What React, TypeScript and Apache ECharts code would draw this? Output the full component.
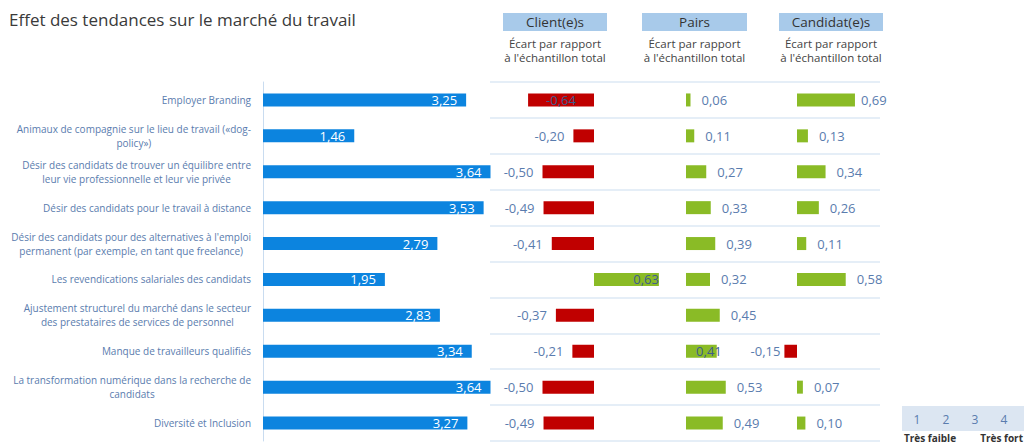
import React, { useEffect, useRef } from "react";
import * as echarts from "echarts";

const categories = [
  "Employer Branding",
  "Animaux de compagnie sur le lieu de travail («dog-\npolicy»)",
  "Désir des candidats de trouver un équilibre entre\nleur vie professionnelle et leur vie privée",
  "Désir des candidats pour le travail à distance",
  "Désir des candidats pour des alternatives à l'emploi\npermanent (par exemple, en tant que freelance)",
  "Les revendications salariales des candidats",
  "Ajustement structurel du marché dans le secteur\ndes prestataires de services de personnel",
  "Manque de travailleurs qualifiés",
  "La transformation numérique dans la recherche de\ncandidats",
  "Diversité et Inclusion",
];
const moyenne = [3.25, 1.46, 3.64, 3.53, 2.79, 1.95, 2.83, 3.34, 3.64, 3.27];
const clients = [-0.64, -0.2, -0.5, -0.49, -0.41, 0.63, -0.37, -0.21, -0.5, -0.49];
const pairs = [0.06, 0.11, 0.27, 0.33, 0.39, 0.32, 0.45, 0.41, 0.53, 0.49];
const candidats: (number | null)[] = [0.69, 0.13, 0.34, 0.26, 0.11, 0.58, null, -0.15, 0.07, 0.1];
const columnTitles = ["Client(e)s", "Pairs", "Candidat(e)s"];
const columnSubtitle = "Écart par rapport\nà l'échantillon total";
const scaleLabels = ["1", "2", "3", "4"];

const FONT = "'Open Sans', sans-serif";
const BLUE = "#0C84DF";
const RED = "#C00000";
const GREEN = "#8ABB26";
const LABEL = "#5A7CAE";
const DARKLABEL = "#3E5C8E";

const fmt = (v: number) => v.toFixed(2).replace(".", ",");

export default function App() {
  const ref = useRef<HTMLDivElement>(null);
  useEffect(() => {
    if (!ref.current) return;
    const chart = echarts.init(ref.current, undefined, { renderer: "svg" });
    const top = 82;
    const height = 359;
    const grids = [
      { left: 263, top, height, width: 250 },
      { left: 491, top, height, width: 206 },
      { left: 611, top, height, width: 150 },
      { left: 713, top, height, width: 168 },
      { left: 490, top, height, width: 390 },
    ];
    const yBase = {
      type: "category",
      data: categories,
      inverse: true,
      axisTick: { show: false },
      axisLabel: { show: false },
      axisLine: { show: false },
      splitLine: { show: false },
    };
    const yAxes: any[] = grids.map((_, i) => ({ ...yBase, gridIndex: i }));
    yAxes[0] = {
      ...yBase,
      gridIndex: 0,
      axisLine: { show: true, lineStyle: { color: "#C9DCF0", width: 1 } },
      axisLabel: {
        show: true,
        margin: 12,
        color: LABEL,
        fontSize: 10,
        lineHeight: 14,
        fontFamily: FONT,
        align: "right",
        formatter: (v: string) =>
          v
            .split("\n")
            .map((l) => `{c|${l}}`)
            .join("\n"),
        rich: {
          c: { align: "center", color: LABEL, fontSize: 10, lineHeight: 14, fontFamily: FONT },
        },
      },
    };
    yAxes[4] = {
      ...yBase,
      gridIndex: 4,
      splitLine: { show: true, lineStyle: { color: "#DDE8F4", width: 1.5 } },
    };
    const xAxes = [
      { gridIndex: 0, min: 0, max: 4 },
      { gridIndex: 1, min: -1, max: 1 },
      { gridIndex: 2, min: -1, max: 1 },
      { gridIndex: 3, min: -1, max: 1 },
      { gridIndex: 4, min: 0, max: 1 },
    ].map((a) => ({ ...a, type: "value", show: false, splitLine: { show: false } }));

    const labelBase = { fontFamily: FONT, fontSize: 13, color: LABEL };

    const clientData = clients.map((v) => {
      let label: any;
      if (v < -0.6) label = { position: "inside", color: DARKLABEL };
      else if (v < 0) label = { position: "left", distance: 9 };
      else label = { position: "insideRight", distance: 0, color: DARKLABEL };
      return { value: v, itemStyle: { color: v < 0 ? RED : GREEN }, label };
    });
    const pairsData = pairs.map((v, i) => ({
      value: v,
      label:
        categories[i] === "Manque de travailleurs qualifiés"
          ? { position: "insideRight", distance: -5, color: DARKLABEL }
          : { position: "right", distance: 11 },
    }));
    const candData = candidats.map((v) =>
      v === null
        ? { value: null }
        : {
            value: v,
            itemStyle: { color: v < 0 ? RED : GREEN },
            label: v < 0 ? { position: "left", distance: 4 } : { position: "right", distance: v > 0.65 ? 6 : 11 },
          }
    );

    const barBase = { type: "bar", barWidth: 13, silent: true };

    chart.setOption({
      animation: false,
      title: {
        text: "Effet des tendances sur le marché du travail",
        left: 4,
        top: 6,
        textStyle: { fontFamily: FONT, fontSize: 17, fontWeight: "normal", color: "#3A3A3A" },
      },
      grid: grids,
      xAxis: xAxes,
      yAxis: yAxes,
      series: [
        {
          ...barBase,
          xAxisIndex: 0,
          yAxisIndex: 0,
          data: moyenne,
          itemStyle: { color: BLUE },
          label: {
            show: true,
            position: "insideRight",
            distance: 9,
            ...labelBase,
            color: "#FFFFFF",
            formatter: (p: any) => fmt(p.value),
          },
        },
        {
          ...barBase,
          xAxisIndex: 1,
          yAxisIndex: 1,
          data: clientData,
          label: { show: true, ...labelBase, formatter: (p: any) => fmt(p.value) },
        },
        {
          ...barBase,
          xAxisIndex: 2,
          yAxisIndex: 2,
          data: pairsData,
          itemStyle: { color: GREEN },
          label: { show: true, ...labelBase, formatter: (p: any) => fmt(p.value) },
        },
        {
          ...barBase,
          xAxisIndex: 3,
          yAxisIndex: 3,
          data: candData,
          label: {
            show: true,
            ...labelBase,
            formatter: (p: any) => (p.value == null ? "" : fmt(p.value)),
          },
        },
      ],
      graphic: [
        ...columnTitles.flatMap((t, i) => {
          const boxes = [
            [503, 104],
            [642, 105],
            [779, 104],
          ];
          const [x, w] = boxes[i];
          return [
            { type: "rect", shape: { x, y: 13, width: w, height: 18 }, style: { fill: "#A8CAEA" } },
            {
              type: "text",
              x: x + w / 2,
              y: 22,
              style: {
                text: t,
                fontFamily: FONT,
                fontSize: 13.5,
                fill: "#333333",
                align: "center",
                verticalAlign: "middle",
              },
            },
            {
              type: "text",
              x: x + w / 2,
              y: 50,
              style: {
                text: columnSubtitle,
                fontFamily: FONT,
                fontSize: 11.5,
                lineHeight: 14,
                fill: "#444444",
                align: "center",
                verticalAlign: "middle",
              },
            },
          ];
        }),
        { type: "rect", shape: { x: 902, y: 406, width: 122, height: 25 }, style: { fill: "#DCE6F2" } },
        ...scaleLabels.map((s, i) => ({
          type: "text",
          x: 917 + i * 29,
          y: 419,
          style: {
            text: s,
            fontFamily: FONT,
            fontSize: 12,
            fill: LABEL,
            align: "center",
            verticalAlign: "middle",
          },
        })),
        {
          type: "text",
          x: 904,
          y: 438,
          style: {
            text: "Très faible",
            fontFamily: FONT,
            fontSize: 10,
            fontWeight: "bold",
            fill: "#333333",
            align: "left",
            verticalAlign: "middle",
          },
        },
        {
          type: "text",
          x: 1023,
          y: 438,
          style: {
            text: "Très fort",
            fontFamily: FONT,
            fontSize: 10,
            fontWeight: "bold",
            fill: "#333333",
            align: "right",
            verticalAlign: "middle",
          },
        },
      ],
    });
    return () => chart.dispose();
  }, []);
  return (
    <div
      ref={ref}
      style={{ position: "fixed", left: 0, top: 0, width: 1024, height: 447, background: "#FFFFFF" }}
    />
  );
}
